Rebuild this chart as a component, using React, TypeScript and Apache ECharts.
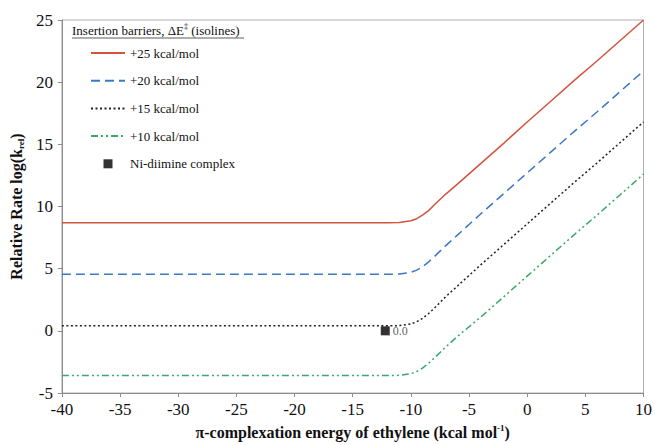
import React, { useEffect, useRef } from "react";
import * as echarts from "echarts";

const xValues = [-40, -35, -30, -25, -20, -15, -12, -11, -10, -9.5, -9, -8.5, -8, -7, -6, -4, -2, 0, 2, 4, 6, 8, 10];
const red25 = [8.7, 8.7, 8.7, 8.7, 8.7, 8.7, 8.7, 8.72, 8.85, 9.02, 9.3, 9.65, 10.12, 11.0, 11.8, 13.45, 15.1, 16.8, 18.45, 20.1, 21.7, 23.35, 25.0];
const blue20 = [4.55, 4.55, 4.55, 4.55, 4.55, 4.55, 4.55, 4.57, 4.7, 4.88, 5.15, 5.52, 5.95, 6.85, 7.7, 9.4, 11.05, 12.7, 14.35, 16.0, 17.6, 19.25, 20.9];
const black15 = [0.4, 0.4, 0.4, 0.4, 0.4, 0.4, 0.4, 0.42, 0.55, 0.73, 1.0, 1.37, 1.8, 2.75, 3.6, 5.3, 6.95, 8.6, 10.25, 11.9, 13.5, 15.15, 16.8];
const green10 = [-3.6, -3.6, -3.6, -3.6, -3.6, -3.6, -3.6, -3.58, -3.45, -3.27, -3.0, -2.62, -2.2, -1.3, -0.45, 1.1, 2.75, 4.4, 6.05, 7.7, 9.3, 10.95, 12.6];
const complexPoint = [-12.2, 0.0];
const complexLabel = "0.0";
const seriesNames = ["+25 kcal/mol", "+20 kcal/mol", "+15 kcal/mol", "+10 kcal/mol"];
const complexName = "Ni-diimine complex";

const SERIF = "'Liberation Serif', 'DejaVu Serif', serif";

const pair = (ys: number[]) => xValues.map((x, i) => [x, ys[i]]);

export default function App() {
  const ref = useRef<HTMLDivElement>(null);
  useEffect(() => {
    if (!ref.current) return;
    const chart = echarts.init(ref.current, undefined, { renderer: "svg" });
    const lineSeries = (name: string, data: number[], color: string, type: any) => ({
      name,
      type: "line",
      data: pair(data),
      symbol: "none",
      showSymbol: false,
      smooth: false,
      lineStyle: { color, width: 1.5, type },
      itemStyle: { color },
      z: 2,
    });
    chart.setOption({
      animation: false,
      backgroundColor: "#ffffff",
      grid: { left: 61, right: 10, top: 20, bottom: 52, show: true, borderColor: "#b0b0b0", borderWidth: 1 },
      xAxis: {
        type: "value",
        min: -40,
        max: 10,
        interval: 5,
        splitLine: { show: false },
        axisLine: { onZero: false, lineStyle: { color: "#8c8c8c", width: 1 } },
        axisTick: { show: true, length: 4, lineStyle: { color: "#8c8c8c" } },
        axisLabel: { color: "#111", fontFamily: SERIF, fontSize: 17, margin: 8 },
        name: "{b|π-complexation energy of ethylene (kcal mol}{p|-1}{b|)}",
        nameLocation: "middle",
        nameGap: 30,
        nameTextStyle: {
          rich: {
            b: { fontFamily: SERIF, fontWeight: "bold", fontSize: 16, color: "#111", lineHeight: 18 },
            p: { fontFamily: SERIF, fontWeight: "bold", fontSize: 9, color: "#111", lineHeight: 18, verticalAlign: "top" },
          },
        },
      },
      yAxis: {
        type: "value",
        min: -5,
        max: 25,
        interval: 5,
        splitLine: { show: false },
        axisLine: { show: true, onZero: false, lineStyle: { color: "#8c8c8c", width: 1 } },
        axisTick: { show: true, length: 4, lineStyle: { color: "#8c8c8c" } },
        axisLabel: { color: "#111", fontFamily: SERIF, fontSize: 17, margin: 9 },
        name: "{b|Relative Rate log(k}{s|rel}{b|)}",
        nameLocation: "middle",
        nameGap: 32,
        nameTextStyle: {
          rich: {
            b: { fontFamily: SERIF, fontWeight: "bold", fontSize: 16, color: "#111", lineHeight: 18 },
            s: { fontFamily: SERIF, fontWeight: "bold", fontSize: 9, color: "#111", lineHeight: 18, verticalAlign: "bottom" },
          },
        },
      },
      legend: {
        orient: "vertical",
        left: 90,
        top: 46,
        padding: 0,
        itemWidth: 34,
        itemHeight: 9,
        itemGap: 13.7,
        textStyle: { fontFamily: SERIF, fontSize: 13, color: "#111", lineHeight: 14 },
        data: [
          ...seriesNames.map((n) => ({ name: n, itemStyle: { opacity: 0, color: "rgba(0,0,0,0)", borderWidth: 0 } })),
          { name: complexName, icon: "path://M0,0H10V10H0Z" },
        ],
      },
      graphic: [
        {
          type: "text",
          left: 72,
          top: 22,
          style: {
            text: "{t|Insertion barriers, ΔE}{s|‡}{t| (isolines)}",
            rich: {
              t: { fontFamily: SERIF, fontSize: 13, fill: "#111", lineHeight: 16 },
              s: { fontFamily: SERIF, fontSize: 8, fill: "#111", lineHeight: 16, verticalAlign: "top" },
            },
          },
        },
        {
          type: "line",
          shape: { x1: 72, y1: 38, x2: 244, y2: 38 },
          style: { stroke: "#333", lineWidth: 0.8 },
        },
      ],
      series: [
        lineSeries(seriesNames[0], red25, "#d4533e", "solid"),
        lineSeries(seriesNames[1], blue20, "#3b78c6", [9, 5]),
        lineSeries(seriesNames[2], black15, "#222222", [2, 2.5]),
        lineSeries(seriesNames[3], green10, "#3aa86c", [7, 3, 2, 3, 2, 3]),
        {
          name: complexName,
          type: "scatter",
          data: [complexPoint],
          symbol: "rect",
          symbolSize: 9,
          itemStyle: { color: "#000" },
          z: 5,
          label: {
            show: true,
            position: "right",
            distance: 3,
            formatter: () => complexLabel,
            fontFamily: SERIF,
            fontSize: 12,
            color: "#333",
          },
        },
      ],
    });
    return () => chart.dispose();
  }, []);
  return <div ref={ref} style={{ position: "fixed", left: 0, top: 0, width: 655, height: 445 }} />;
}
